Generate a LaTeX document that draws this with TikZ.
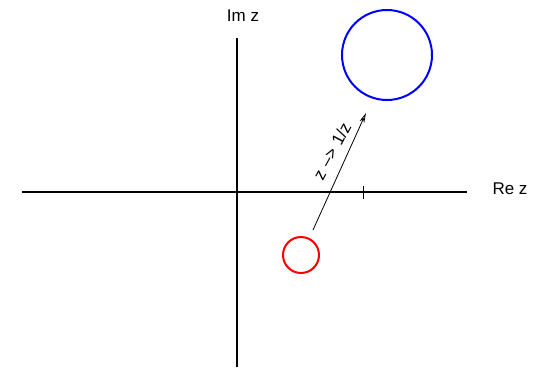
\documentclass[tikz,border=0pt]{standalone}
\usepackage{fontspec}
\setmainfont{Liberation Sans}
\usetikzlibrary{arrows.meta}

\begin{document}
\begin{tikzpicture}[x=1pt, y=1pt,
    axis/.style={line width=2pt},
    lbl/.style={font=\fontsize{17}{20}\selectfont, inner sep=0pt},
    disc/.style={circle, line width=2pt, inner sep=0pt}]
  \useasboundingbox (-237,-176) rectangle (305,192);
  % Axes, crossing at the origin.
  \coordinate (xl) at (-215,0);
  \coordinate (xr) at (230,0);
  \coordinate (yb) at (0,-175);
  \coordinate (yt) at (0,154);
  \draw[axis] (xl) -- (xr);
  \draw[axis] (yb) -- (yt);
  \node[lbl] (re) at (273,3) {Re z};
  \node[lbl] (im) at (6,176) {Im z};
  % Tick at 1 on the real axis.
  \coordinate (tkt) at (126,6);
  \coordinate (tkb) at (126,-7);
  \draw[line width=0.8pt] (tkt) -- (tkb);
  % Small circle and its image under 1/z.
  \node[disc, draw=red, minimum size=36pt] (small) at (64,-63) {};
  \node[disc, draw=blue, minimum size=90pt] (big) at (150,137) {};
  % Map arrow.
  \coordinate (from) at (76,-38);
  \coordinate (to) at (129,79);
  \draw[line width=0.8pt, -{Stealth[open, length=10pt, width=5pt, inset=3pt]}] (from) -- (to);
  \node[lbl, rotate=62] (map) at (95,41) {z\,\,–>\,\,1/z};
\end{tikzpicture}
\end{document}
